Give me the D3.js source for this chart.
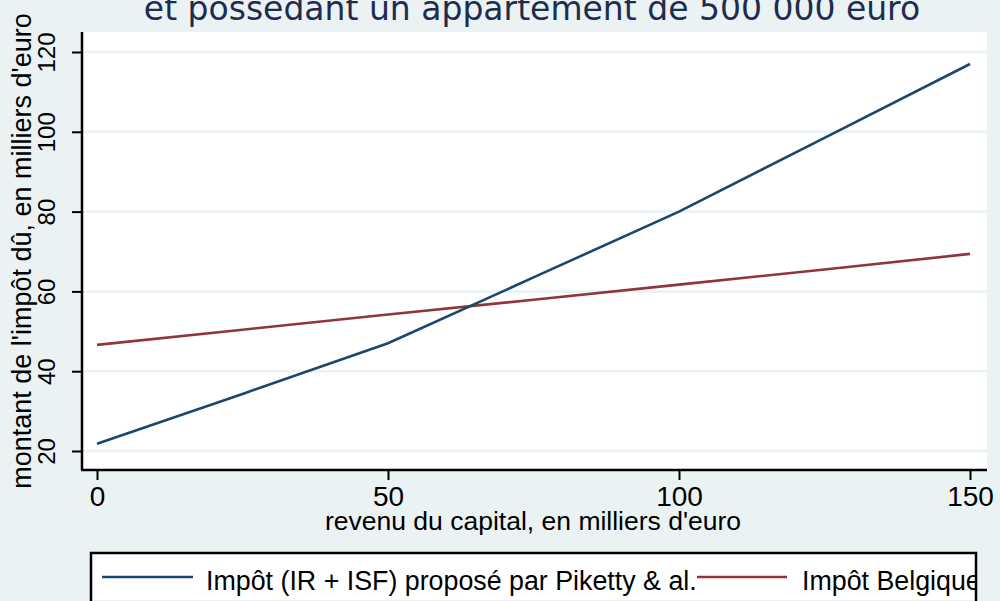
<!DOCTYPE html>
<html>
<head>
<meta charset="utf-8">
<script src="https://cdn.jsdelivr.net/npm/d3@7"></script>
<style>
  html, body { margin: 0; padding: 0; background: #eaf2f3; }
  svg { display: block; }
</style>
</head>
<body>
<script>
// ---- data ----
const titleLine = "et possedant un appartement de 500 000 euro";
const xTitle = "revenu du capital, en milliers d'euro";
const yTitle = "montant de l'impôt dû, en milliers d'euro";
const xTicks = [0, 50, 100, 150];
const yTicks = [20, 40, 60, 80, 100, 120];
const capitalIncome = [0, 25, 50, 75, 100, 125, 150];
const pikettyTax = [21.8, 34.3, 47, 63.5, 80, 98.5, 117];
const belgiumTax = [46.6, 50.4, 54.2, 57.9, 61.7, 65.5, 69.4];
const seriesNames = ["Impôt (IR + ISF) proposé par Piketty & al.", "Impôt Belgique"];
const seriesColors = ["#1a476f", "#90353b"];

const W = 1000, H = 601;
const bg = "#eaf2f3";
const plot = { left: 82, right: 987, top: 32, bottom: 470 };

const svg = d3.select("body").append("svg").attr("width", W).attr("height", H);
svg.append("rect").attr("width", W).attr("height", H).attr("fill", bg);

const x = d3.scaleLinear().domain([0, 150]).range([97, 970]);
const y = d3.scaleLinear().domain([20, 120]).range([451, 52]);

// plot region
svg.append("rect")
  .attr("x", plot.left).attr("y", plot.top)
  .attr("width", plot.right - plot.left).attr("height", plot.bottom - plot.top)
  .attr("fill", "#ffffff");

// gridlines
svg.append("g").selectAll("line").data(yTicks).join("line")
  .attr("x1", plot.left).attr("x2", plot.right)
  .attr("y1", d => y(d)).attr("y2", d => y(d))
  .attr("stroke", bg).attr("stroke-width", 2.5);

// title (second line, partly cut at the top)
svg.append("text")
  .attr("x", 532).attr("y", 20)
  .attr("text-anchor", "middle")
  .attr("font-family", "DejaVu Sans, Verdana, sans-serif")
  .attr("font-size", 33)
  .attr("fill", "#1e2d4e")
  .text(titleLine);

// lines
const pts1 = capitalIncome.map((c, i) => [c, pikettyTax[i]]);
const pts2 = capitalIncome.map((c, i) => [c, belgiumTax[i]]);
const line = d3.line().x(d => x(d[0])).y(d => y(d[1]));
svg.append("path").datum(pts2).attr("d", line)
  .attr("fill", "none").attr("stroke", seriesColors[1]).attr("stroke-width", 2.6);
svg.append("path").datum(pts1).attr("d", line)
  .attr("fill", "none").attr("stroke", seriesColors[0]).attr("stroke-width", 2.6);

// x axis
const xAxis = svg.append("g").attr("transform", `translate(0,${plot.bottom})`)
  .call(d3.axisBottom(x).tickValues(xTicks).tickSize(10).tickPadding(6).tickSizeOuter(0));
xAxis.select(".domain").remove();
xAxis.append("line").attr("x1", plot.left - 1).attr("x2", plot.right)
  .attr("y1", 0).attr("y2", 0).attr("stroke", "#000").attr("stroke-width", 2.5);
xAxis.selectAll(".tick line").attr("stroke", "#000").attr("stroke-width", 2);
xAxis.selectAll(".tick text")
  .attr("font-family", "Liberation Sans, Arial, sans-serif")
  .attr("font-size", 28).attr("fill", "#000");

// y axis
const yAxis = svg.append("g").attr("transform", `translate(${plot.left},0)`)
  .call(d3.axisLeft(y).tickValues(yTicks).tickSize(10).tickSizeOuter(0));
yAxis.select(".domain").remove();
yAxis.append("line").attr("x1", 0).attr("x2", 0)
  .attr("y1", plot.top).attr("y2", plot.bottom).attr("stroke", "#000").attr("stroke-width", 2.5);
yAxis.selectAll(".tick line").attr("stroke", "#000").attr("stroke-width", 2);
yAxis.selectAll(".tick text")
  .attr("x", null).attr("dy", null)
  .attr("transform", "translate(-27,0) rotate(-90)")
  .attr("text-anchor", "middle")
  .attr("font-family", "Liberation Sans, Arial, sans-serif")
  .attr("font-size", 24).attr("fill", "#000");

// axis titles
svg.append("text")
  .attr("x", 533).attr("y", 530)
  .attr("text-anchor", "middle")
  .attr("font-family", "Liberation Sans, Arial, sans-serif")
  .attr("font-size", 26.5).attr("fill", "#000")
  .text(xTitle);
svg.append("text")
  .attr("transform", "translate(31,251) rotate(-90)")
  .attr("text-anchor", "middle")
  .attr("font-family", "Liberation Sans, Arial, sans-serif")
  .attr("font-size", 27).attr("fill", "#000")
  .text(yTitle);

// legend
const lg = { x: 91, y: 553, w: 885, h: 47 };
svg.append("clipPath").attr("id", "lgclip").append("rect")
  .attr("x", lg.x).attr("y", lg.y).attr("width", lg.w).attr("height", lg.h);
const legend = svg.append("g");
legend.append("rect").attr("x", lg.x).attr("y", lg.y).attr("width", lg.w).attr("height", lg.h)
  .attr("fill", "#fff");
const items = [
  { name: seriesNames[0], color: seriesColors[0], x1: 102, x2: 193, tx: 206 },
  { name: seriesNames[1], color: seriesColors[1], x1: 697, x2: 787, tx: 802 }
];
const lgItems = legend.append("g").attr("clip-path", "url(#lgclip)");
lgItems.selectAll("line").data(items).join("line")
  .attr("x1", d => d.x1).attr("x2", d => d.x2).attr("y1", 577).attr("y2", 577)
  .attr("stroke", d => d.color).attr("stroke-width", 2.6);
lgItems.selectAll("text").data(items).join("text")
  .attr("x", d => d.tx).attr("y", 590)
  .attr("font-family", "Liberation Sans, Arial, sans-serif")
  .attr("font-size", 26.8).attr("fill", "#000")
  .text(d => d.name);
legend.append("rect").attr("x", lg.x).attr("y", lg.y).attr("width", lg.w).attr("height", lg.h + 10)
  .attr("fill", "none").attr("stroke", "#000").attr("stroke-width", 2.5);
</script>
</body>
</html>
